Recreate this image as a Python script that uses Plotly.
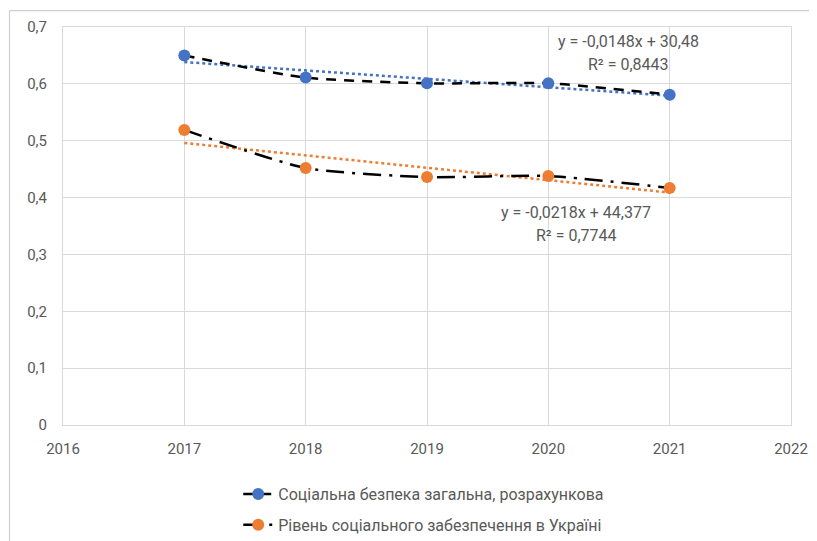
import numpy as np
import plotly.graph_objects as go

years = [2017, 2018, 2019, 2020, 2021]
safety_total = [0.650, 0.611, 0.601, 0.601, 0.581]
social_level = [0.519, 0.452, 0.436, 0.438, 0.417]
name_a = "Соціальна безпека загальна, розрахункова"
name_b = "Рівень соціального забезпечення в Україні"
eq_a = ["y = -0,0148x + 30,48", "R² = 0,8443"]
eq_b = ["y = -0,0218x + 44,377", "R² = 0,7744"]
x_ticks = [2016, 2017, 2018, 2019, 2020, 2021, 2022]
y_ticks = [0, 0.1, 0.2, 0.3, 0.4, 0.5, 0.6, 0.7]
y_tick_text = ["0", "0,1", "0,2", "0,3", "0,4", "0,5", "0,6", "0,7"]

BLUE = "#4472C4"
ORANGE = "#ED7D31"
GRID = "#D9D9D9"
TXT = "#595959"
FONT = "Liberation Sans Narrow, Roboto, sans-serif"

fig = go.Figure()

# trendlines
for vals, col in [(safety_total, BLUE), (social_level, ORANGE)]:
    k, b = np.polyfit(years, vals, 1)
    xs = [years[0], years[-1]]
    fig.add_trace(go.Scatter(x=xs, y=[k * x + b for x in xs], mode="lines",
                             line=dict(color=col, width=2.5, dash="dot"),
                             showlegend=False, hoverinfo="skip"))

fig.add_trace(go.Scatter(x=years, y=safety_total, mode="lines+markers", name=name_a,
                         legendgroup="a",
                         line=dict(color="black", width=2.5, dash="10px,8px", shape="spline", smoothing=0.6),
                         marker=dict(color=BLUE, size=12)))
fig.add_trace(go.Scatter(x=years, y=social_level, mode="lines+markers", name=name_b,
                         legendgroup="b",
                         line=dict(color="black", width=2.5, dash="18px,8px,3px,8px", shape="spline", smoothing=0.6),
                         marker=dict(color=ORANGE, size=12)))

for i, t in enumerate(eq_a):
    fig.add_annotation(x=2020.66, y=0.674 - i * 0.04, text=t, showarrow=False,
                       font=dict(size=16, color=TXT, family=FONT), xanchor="center")
for i, t in enumerate(eq_b):
    fig.add_annotation(x=2020.23, y=0.373 - i * 0.04, text=t, showarrow=False,
                       font=dict(size=16, color=TXT, family=FONT), xanchor="center")

# outer chart border (left and top edges; the others fall outside the window)
fig.add_shape(type="line", xref="paper", yref="paper", x0=-0.0735, x1=-0.0735, y0=-0.3, y1=1.041,
              line=dict(color="#CFCFCF", width=1.2), layer="above")
fig.add_shape(type="line", xref="paper", yref="paper", x0=-0.0735, x1=1.05, y0=1.041, y1=1.041,
              line=dict(color="#CFCFCF", width=1.2), layer="above")

fig.update_layout(
    width=809, height=533,
    margin=dict(l=55, r=26, t=19, b=116, autoexpand=False),
    plot_bgcolor="white", paper_bgcolor="white",
    font=dict(family=FONT, color=TXT, size=15),
    legend=dict(orientation="v", x=0.4955, xanchor="center", y=-0.131, yanchor="top",
                font=dict(size=16, color=TXT, family=FONT), tracegroupgap=7,
                bgcolor="rgba(0,0,0,0)"),
    xaxis=dict(range=[2016, 2022], tickvals=x_ticks, ticktext=[str(v) for v in x_ticks],
               showgrid=True, gridcolor=GRID, gridwidth=1, showline=True, linecolor=GRID,
               mirror=True, zeroline=False, ticks="", ticklabelstandoff=10, automargin=False,
               tickfont=dict(size=15, color=TXT)),
    yaxis=dict(range=[0, 0.7], tickvals=y_ticks, ticktext=y_tick_text,
               showgrid=True, gridcolor=GRID, gridwidth=1, showline=True, linecolor=GRID,
               mirror=True, zeroline=False, ticks="", ticklabelstandoff=12, automargin=False,
               tickfont=dict(size=15, color=TXT)),
)

fig.write_html("out.html")
